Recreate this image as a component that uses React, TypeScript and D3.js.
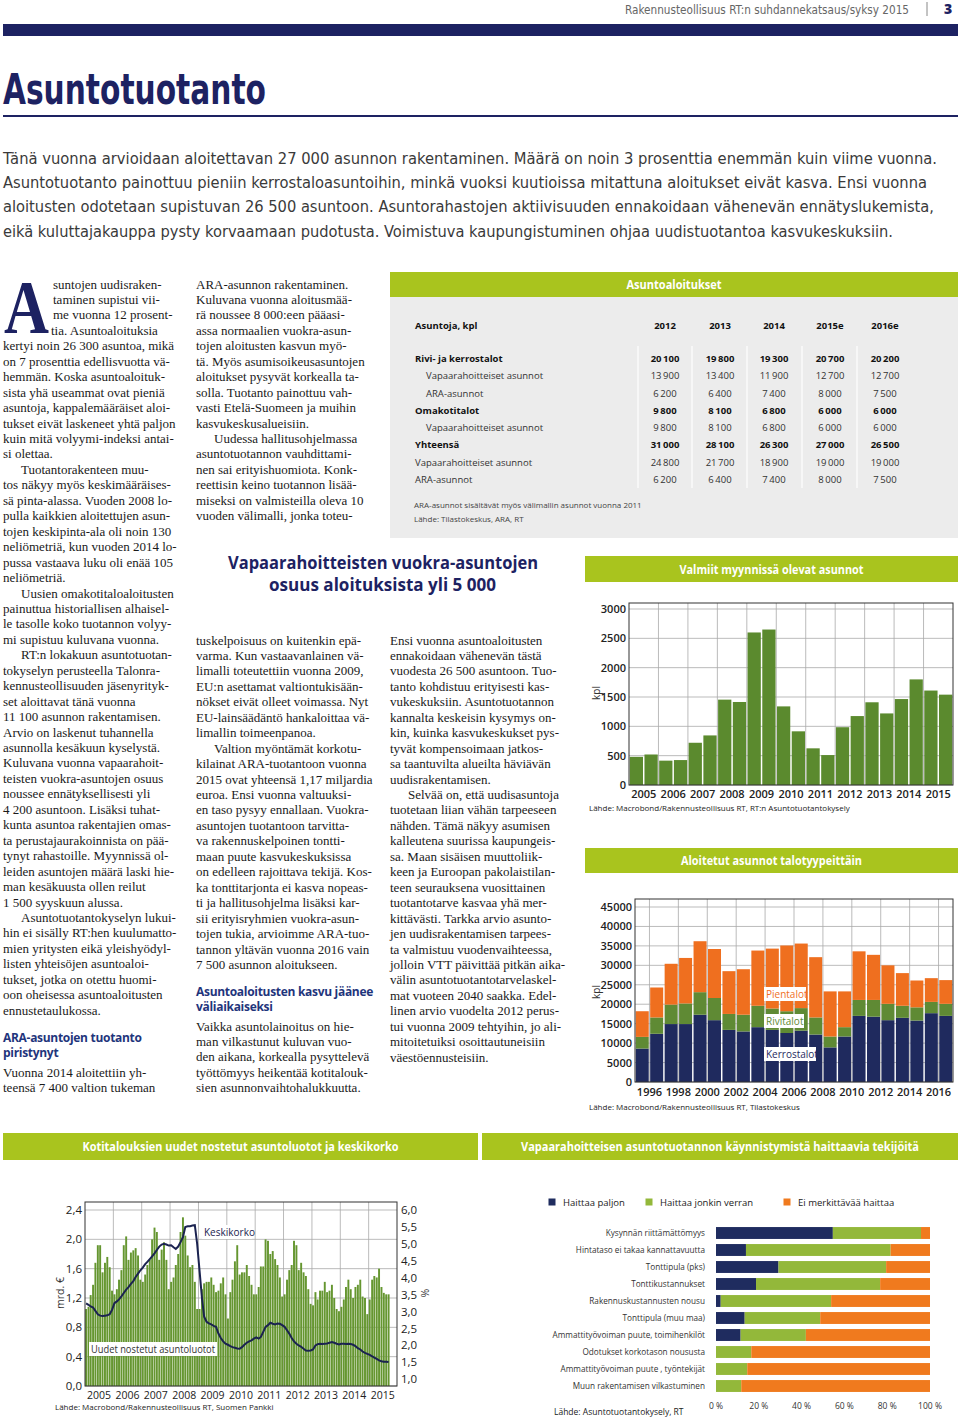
import React from 'react';
import * as d3 from 'd3';

const W = 960, H = 1419;
const NAVY = '#1d2262';
const LIME = '#a9c41e';
const SERIF = "'Liberation Serif','DejaVu Serif',serif";
const SANS = "'Open Sans','Liberation Sans',sans-serif";
const NARROW = "'Liberation Sans Narrow','DejaVu Sans Condensed','Liberation Sans',sans-serif";
const BODY = '#1a1a1a';

// ---------- Table: Asuntoaloitukset ----------
const tableYears = ['2012', '2013', '2014', '2015e', '2016e'];
const tableRows = [
  { label: 'Rivi- ja kerrostalot', values: [20100, 19800, 19300, 20700, 20200], bold: true, indent: false },
  { label: 'Vapaarahoitteiset asunnot', values: [13900, 13400, 11900, 12700, 12700], bold: false, indent: true },
  { label: 'ARA-asunnot', values: [6200, 6400, 7400, 8000, 7500], bold: false, indent: true },
  { label: 'Omakotitalot', values: [9800, 8100, 6800, 6000, 6000], bold: true, indent: false },
  { label: 'Vapaarahoitteiset asunnot', values: [9800, 8100, 6800, 6000, 6000], bold: false, indent: true },
  { label: 'Yhteensä', values: [31000, 28100, 26300, 27000, 26500], bold: true, indent: false },
  { label: 'Vapaarahoitteiset asunnot', values: [24800, 21700, 18900, 19000, 19000], bold: false, indent: false },
  { label: 'ARA-asunnot', values: [6200, 6400, 7400, 8000, 7500], bold: false, indent: false },
];

// ---------- Valmiit myynnissä olevat asunnot ----------
const valmiitYears = ['2005', '2006', '2007', '2008', '2009', '2010', '2011', '2012', '2013', '2014', '2015'];
const valmiitValues = [480, 520, 415, 425, 720, 845, 1455, 1415, 2600, 2650, 1340, 915, 625, 510, 985, 1175, 1410, 1220, 1465, 1800, 1610, 1540];
const valmiitTicks = [0, 500, 1000, 1500, 2000, 2500, 3000];

// ---------- Aloitetut asunnot talotyypeittäin ----------
const aloitetutLabels = ['1996', '1998', '2000', '2002', '2004', '2006', '2008', '2010', '2012', '2014', '2016'];
const kerrostalot = [8600, 12400, 14900, 14900, 17300, 15900, 13400, 13000, 14100, 13400, 12600, 13200, 12200, 8900, 11700, 17000, 16800, 15900, 16500, 15800, 17700, 17000];
const rivitalot = [3000, 4200, 5000, 5300, 5800, 5700, 4100, 4300, 5500, 5500, 5600, 5800, 4400, 2800, 2400, 4100, 4300, 4200, 3100, 3400, 2900, 3100];
const pientalot = [6600, 7700, 10500, 11700, 13100, 12600, 11000, 11700, 14200, 15400, 16900, 16600, 15500, 11600, 9200, 12500, 11600, 9900, 8400, 6900, 6100, 6100];
const aloitetutTicks = [0, 5000, 10000, 15000, 20000, 25000, 30000, 35000, 40000, 45000];

// ---------- Kotitalouksien asuntoluotot ja keskikorko (monthly from Jan 2005) ----------
const luotot = [
  1.05, 1.08, 1.24, 1.38, 1.68, 1.92, 1.92, 1.55, 1.68, 1.76, 1.62, 1.30,
  1.25, 1.32, 1.45, 1.58, 1.92, 2.04, 1.72, 1.82, 1.85, 1.88, 1.78, 1.45,
  1.42, 1.52, 1.65, 1.72, 2.00, 2.16, 2.10, 1.72, 1.86, 1.96, 1.72, 1.32,
  1.42, 1.48, 1.65, 1.80, 2.10, 2.30, 2.05, 1.78, 1.62, 1.65, 1.42, 1.05,
  1.05, 1.32, 1.40, 1.42, 1.42, 1.48, 1.38, 1.28, 1.30, 1.40, 1.48, 1.25,
  0.92, 1.28, 1.45, 1.70, 1.92, 1.52, 1.55, 1.55, 1.65, 1.50, 1.38, 1.25,
  1.25, 1.35, 1.63, 1.63, 2.00, 1.98, 1.80, 1.84, 1.73, 1.65, 1.48, 1.22,
  1.25, 1.45, 1.58, 1.65, 1.98, 1.92, 1.58, 1.68, 1.55, 1.50, 1.32, 1.12,
  1.10, 1.28, 1.18, 1.30, 1.30, 1.42, 1.28, 1.30, 1.38, 1.20, 1.05, 1.02,
  1.08, 1.18, 1.35, 1.45, 1.32, 1.20, 1.35, 1.38, 1.45, 1.22, 1.20, 0.98,
  1.18, 1.45, 1.50, 1.48, 1.60, 1.35, 1.27, 1.25, 1.25,
];
const keskikorko = [
  3.24, 3.20, 3.15, 3.12, 3.02, 2.92, 2.88, 2.87, 2.88, 2.89, 2.92, 3.05,
  3.25, 3.30, 3.36, 3.45, 3.55, 3.65, 3.72, 3.82, 3.90, 4.02, 4.12, 4.22,
  4.30, 4.40, 4.47, 4.55, 4.63, 4.72, 4.82, 4.92, 4.98, 5.00, 4.98, 4.95,
  4.96, 4.90, 4.85, 4.92, 5.05, 5.20, 5.50, 5.52, 5.52, 5.54, 5.55, 5.00,
  4.20, 3.40, 2.85, 2.70, 2.65, 2.62, 2.58, 2.55, 2.35, 2.22, 2.12, 2.05,
  2.02, 1.98, 1.95, 1.93, 1.91, 1.90, 1.95, 2.02, 2.08, 2.12, 2.15, 2.20,
  2.24, 2.20, 2.25, 2.40, 2.55, 2.60, 2.67, 2.64, 2.62, 2.65, 2.64, 2.60,
  2.55, 2.45, 2.35, 2.22, 2.12, 2.05, 2.00, 1.96, 1.90, 1.85, 1.84, 1.85,
  1.88, 2.00, 2.04, 2.05, 2.04, 2.05, 2.06, 2.08, 2.10, 2.08, 2.05, 2.03,
  2.05, 2.05, 2.04, 2.05, 2.04, 2.02, 1.98, 1.92, 1.88, 1.82, 1.78, 1.75,
  1.72, 1.68, 1.64, 1.60, 1.56, 1.53, 1.52, 1.52, 1.51,
];
const luototYears = ['2005', '2006', '2007', '2008', '2009', '2010', '2011', '2012', '2013', '2014', '2015'];
const luototLeftTicks = [0, 0.4, 0.8, 1.2, 1.6, 2.0, 2.4];
const luototRightTicks = [1.0, 1.5, 2.0, 2.5, 3.0, 3.5, 4.0, 4.5, 5.0, 5.5, 6.0];

// ---------- Haittaavat tekijät ----------
const haittaCategories = [
  'Kysynnän riittämättömyys',
  'Hintataso ei takaa kannattavuutta',
  'Tonttipula (pks)',
  'Tonttikustannukset',
  'Rakennuskustannusten nousu',
  'Tonttipula (muu maa)',
  'Ammattityövoiman puute, toimihenkilöt',
  'Odotukset korkotason noususta',
  'Ammattityövoiman puute ,  työntekijät',
  'Muun rakentamisen vilkastuminen',
];
const haittaaPaljon = [54.6, 14.0, 29.2, 18.7, 2.2, 13.4, 11.5, 0, 0, 0];
const haittaaJonkin = [41.2, 67.6, 50.3, 58.0, 51.6, 35.3, 30.5, 16.5, 14.6, 11.8];
const eiHaittaa = [4.2, 18.4, 20.5, 23.3, 46.2, 51.3, 58.0, 83.5, 85.4, 88.2];
const haittaTicks = [0, 20, 40, 60, 80, 100];

// ---------- Text ----------
const introLines = [
  'Tänä vuonna arvioidaan aloitettavan 27 000 asunnon rakentaminen. Määrä on noin 3 prosenttia enemmän kuin viime vuonna.',
  'Asuntotuotanto painottuu pieniin kerrostaloasuntoihin, minkä vuoksi kuutioissa mitattuna aloitukset eivät kasva. Ensi vuonna',
  'aloitusten odotetaan supistuvan 26 500 asuntoon. Asuntorahastojen aktiivisuuden ennakoidaan vähenevän ennätyslukemista,',
  'eikä kuluttajakauppa pysty korvaamaan pudotusta. Voimistuva kaupungistuminen ohjaa uudistuotantoa kasvukeskuksiin.',
];
const introWidths = [934, 924, 931, 890];

const col1 = [
  'suntojen uudisraken-', 'taminen supistui vii-', 'me vuonna 12 prosent-', 'tia. Asuntoaloituksia',
  'kertyi noin 26 300 asuntoa, mikä', 'on 7 prosenttia edellisvuotta vä-', 'hemmän. Koska asuntoaloituk-',
  'sista yhä useammat ovat pieniä', 'asuntoja, kappalemääräiset aloi-', 'tukset eivät laskeneet yhtä paljon',
  'kuin mitä volyymi-indeksi antai-', 'si olettaa.', '\tTuotantorakenteen muu-',
  'tos näkyy myös keskimääräises-', 'sä pinta-alassa. Vuoden 2008 lo-', 'pulla kaikkien aloitettujen asun-',
  'tojen keskipinta-ala oli noin 130', 'neliömetriä, kun vuoden 2014 lo-', 'pussa vastaava luku oli enää 105',
  'neliömetriä.', '\tUusien omakotitaloaloitusten', 'painuttua historiallisen alhaisel-',
  'le tasolle koko tuotannon volyy-', 'mi supistuu kuluvana vuonna.', '\tRT:n lokakuun asuntotuotan-',
  'tokyselyn perusteella Talonra-', 'kennusteollisuuden jäsenyrityk-', 'set aloittavat tänä vuonna',
  '11 100 asunnon rakentamisen.', 'Arvio on laskenut tuhannella', 'asunnolla kesäkuun kyselystä.',
  'Kuluvana vuonna vapaarahoit-', 'teisten vuokra-asuntojen osuus', 'noussee ennätyksellisesti yli',
  '4 200 asuntoon. Lisäksi tuhat-', 'kunta asuntoa rakentajien omas-', 'ta perustajaurakoinnista on pää-',
  'tynyt rahastoille. Myynnissä ol-', 'leiden asuntojen määrä laski hie-', 'man kesäkuusta ollen reilut',
  '1 500 syyskuun alussa.', '\tAsuntotuotantokyselyn lukui-', 'hin ei sisälly RT:hen kuulumatto-',
  'mien yritysten eikä yleishyödyl-', 'listen yhteisöjen asuntoaloi-', 'tukset, jotka on otettu huomi-',
  'oon oheisessa asuntoaloitusten', 'ennustetaulukossa.',
];
const col1Head = ['ARA-asuntojen tuotanto', 'piristynyt'];
const col1Tail = ['Vuonna 2014 aloitettiin yh-', 'teensä 7 400 valtion tukeman'];

const col2Top = [
  'ARA-asunnon rakentaminen.', 'Kuluvana vuonna aloitusmää-', 'rä noussee 8 000:een pääasi-',
  'assa normaalien vuokra-asun-', 'tojen aloitusten kasvun myö-', 'tä. Myös asumisoikeusasuntojen',
  'aloitukset pysyvät korkealla ta-', 'solla. Tuotanto painottuu vah-', 'vasti Etelä-Suomeen ja muihin',
  'kasvukeskusalueisiin.', '\tUudessa hallitusohjelmassa', 'asuntotuotannon vauhdittami-',
  'nen sai erityishuomiota. Konk-', 'reettisin keino tuotannon lisää-', 'miseksi on valmisteilla oleva 10',
  'vuoden välimalli, jonka toteu-',
];
const col2Bottom = [
  'tuskelpoisuus on kuitenkin epä-', 'varma. Kun vastaavanlainen vä-', 'limalli toteutettiin vuonna 2009,',
  'EU:n asettamat valtiontukisään-', 'nökset eivät olleet voimassa. Nyt', 'EU-lainsäädäntö hankaloittaa vä-',
  'limallin toimeenpanoa.', '\tValtion myöntämät korkotu-', 'kilainat ARA-tuotantoon vuonna',
  '2015 ovat yhteensä 1,17 miljardia', 'euroa. Ensi vuonna valtuuksi-', 'en taso pysyy ennallaan. Vuokra-',
  'asuntojen tuotantoon tarvitta-', 'va rakennuskelpoinen tontti-', 'maan puute kasvukeskuksissa',
  'on edelleen rajoittava tekijä. Kos-', 'ka tonttitarjonta ei kasva nopeas-', 'ti ja hallitusohjelma lisäksi kar-',
  'sii erityisryhmien vuokra-asun-', 'tojen tukia, arvioimme ARA-tuo-', 'tannon yltävän vuonna 2016 vain',
  '7 500 asunnon aloitukseen.',
];
const col2Head = ['Asuntoaloitusten kasvu jäänee', 'väliaikaiseksi'];
const col2Tail = [
  'Vaikka asuntolainoitus on hie-', 'man vilkastunut kuluvan vuo-', 'den aikana, korkealla pysyttelevä',
  'työttömyys heikentää kotitalouk-', 'sien asunnonvaihtohalukkuutta.',
];
const col3 = [
  'Ensi vuonna asuntoaloitusten', 'ennakoidaan vähenevän tästä', 'vuodesta 26 500 asuntoon. Tuo-',
  'tanto kohdistuu erityisesti kas-', 'vukeskuksiin. Asuntotuotannon', 'kannalta keskeisin kysymys on-',
  'kin, kuinka kasvukeskukset pys-', 'tyvät kompensoimaan jatkos-', 'sa taantuvilta alueilta häviävän',
  'uudisrakentamisen.', '\tSelvää on, että uudisasuntoja', 'tuotetaan liian vähän tarpeeseen',
  'nähden. Tämä näkyy asumisen', 'kalleutena suurissa kaupungeis-', 'sa. Maan sisäisen muuttoliik-',
  'keen ja Euroopan pakolaistilan-', 'teen seurauksena vuosittainen', 'tuotantotarve kasvaa yhä mer-',
  'kittävästi. Tarkka arvio asunto-', 'jen uudisrakentamisen tarpees-', 'ta valmistuu vuodenvaihteessa,',
  'jolloin VTT päivittää pitkän aika-', 'välin asuntotuotantotarvelaskel-', 'mat vuoteen 2040 saakka. Edel-',
  'linen arvio vuodelta 2012 perus-', 'tui vuonna 2009 tehtyihin, jo ali-', 'mitoitetuiksi osoittautuneisiin',
  'väestöennusteisiin.',
];

const STEP = 15.45;

function BodyLines({ lines, x, y0, xOverrides }: { lines: string[]; x: number; y0: number; xOverrides?: Record<number, number> }) {
  return (
    <g fontFamily={SERIF} fontSize={13} fill={BODY}>
      {lines.map((l, i) => {
        const indent = l.startsWith('\t');
        const t = indent ? l.slice(1) : l;
        const xx = xOverrides && xOverrides[i] !== undefined ? xOverrides[i] : x + (indent ? 18 : 0);
        return (
          <text key={i} x={xx} y={y0 + i * STEP}>{t}</text>
        );
      })}
    </g>
  );
}

function Heading({ lines, x, y0 }: { lines: string[]; x: number; y0: number }) {
  return (
    <g fontFamily={SANS} fontSize={12} fontWeight={700} fill="#1f357c">
      {lines.map((l, i) => (
        <text key={i} x={x} y={y0 + i * 15.5} letterSpacing={-0.3}>{l}</text>
      ))}
    </g>
  );
}

function GreenBar({ x, y, w, h, title, tw, fs = 12.5 }: { x: number; y: number; w: number; h: number; title: string; tw: number; fs?: number }) {
  return (
    <g>
      <rect x={x} y={y} width={w} height={h} fill={LIME} />
      <text x={x + w / 2 - tw / 2} y={y + h / 2 + 4.5} fontFamily={SANS} fontWeight={700} fontSize={fs}
        fill="#fff" textLength={tw} lengthAdjust="spacingAndGlyphs">{title}</text>
    </g>
  );
}

const fmtThin = (v: number) => d3.format(',')(v).replace(',', '\u2009');

function Table() {
  const colX = [665, 720, 774, 830, 885];
  const seps = [638, 692, 747, 802, 857];
  const rowY = d3.scaleLinear().domain([0, 7]).range([362, 483]);
  return (
    <g>
      <rect x={390} y={272} width={568} height={266} fill="#ececec" />
      <GreenBar x={390} y={272} w={568} h={25} title="Asuntoaloitukset" tw={95} />
      <g fontFamily={SANS} fontSize={9.5} fill="#111">
        <text x={415} y={329} fontWeight={700}>Asuntoja, kpl</text>
        {tableYears.map((yv, i) => (
          <text key={yv} x={colX[i]} y={329} textAnchor="middle" fontWeight={700}>{yv}</text>
        ))}
        {seps.map((sx, i) => (
          <line key={i} x1={sx} x2={sx} y1={346} y2={488} stroke="#fff" strokeWidth={1.2} />
        ))}
        {tableRows.map((r, ri) => (
          <g key={ri} fontWeight={r.bold ? 700 : 400} fill={r.bold ? '#111' : '#333'}>
            <text x={r.indent ? 426 : 415} y={rowY(ri)}>{r.label}</text>
            {r.values.map((v, ci) => (
              <text key={ci} x={colX[ci]} y={rowY(ri)} textAnchor="middle">{fmtThin(v)}</text>
            ))}
          </g>
        ))}
        <text x={414} y={508} fontSize={8} fill="#444">ARA-asunnot sisältävät myös välimallin asunnot vuonna 2011</text>
        <text x={414} y={522} fontSize={8} fill="#444">Lähde: Tilastokeskus, ARA, RT</text>
      </g>
    </g>
  );
}

function ValmiitChart() {
  const left = 629, right = 953, top = 603, bottom = 785;
  const y = d3.scaleLinear().domain([0, 3000]).range([785, 609]);
  const x = d3.scaleBand<number>().domain(d3.range(valmiitValues.length)).range([left, right]).paddingInner(0.1).paddingOuter(0.05);
  const yr = d3.scaleBand<string>().domain(valmiitYears).range([left, right]);
  return (
    <g>
      <GreenBar x={585} y={556} w={373} h={26} title="Valmiit myynnissä olevat asunnot" tw={184} />
      {valmiitTicks.map(t => (
        <line key={t} x1={left} x2={right} y1={y(t)} y2={y(t)} stroke="#aaa" strokeWidth={0.8} />
      ))}
      {valmiitYears.slice(1).map(v => (
        <line key={v} x1={yr(v)!} x2={yr(v)!} y1={top} y2={bottom} stroke="#aaa" strokeWidth={0.8} />
      ))}
      {valmiitValues.map((v, i) => (
        <rect key={i} x={x(i)!} y={y(v)} width={x.bandwidth()} height={y(0) - y(v)} fill="#5b8a2e" />
      ))}
      <rect x={left} y={top} width={right - left} height={bottom - top} fill="none" stroke="#333" strokeWidth={1} />
      <g fontFamily={SANS} fontSize={11} fontWeight={600} fill="#222">
        {valmiitTicks.map(t => (
          <text key={t} x={626} y={y(t) + 4} textAnchor="end">{t}</text>
        ))}
        {valmiitYears.map(v => (
          <text key={v} x={yr(v)! + yr.bandwidth() / 2} y={798} textAnchor="middle">{v}</text>
        ))}
      </g>
      <text transform="translate(600,693) rotate(-90)" textAnchor="middle" fontFamily={SANS} fontSize={10} fill="#333">kpl</text>
      <text x={589} y={811} fontFamily={SANS} fontSize={8} fill="#222">Lähde: Macrobond/Rakennusteollisuus RT, RT:n Asuntotuotantokysely</text>
    </g>
  );
}

function AloitetutChart() {
  const left = 635, right = 953, top = 899, bottom = 1082;
  const y = d3.scaleLinear().domain([0, 45000]).range([1082, 907]);
  const x = d3.scaleBand<number>().domain(d3.range(kerrostalot.length)).range([left, right]).paddingInner(0.1).paddingOuter(0.05);
  const stack = kerrostalot.map((k, i) => ({ k, r: rivitalot[i], p: pientalot[i] }));
  const gridX = aloitetutLabels.map((_, j) => x(2 * j + 1)! - x.step() * x.paddingInner() / 2);
  return (
    <g>
      <GreenBar x={585} y={848} w={373} h={25} title="Aloitetut asunnot talotyypeittäin" tw={181} />
      {aloitetutTicks.map(t => (
        <line key={t} x1={left} x2={right} y1={y(t)} y2={y(t)} stroke="#aaa" strokeWidth={0.8} />
      ))}
      {gridX.map((gx, j) => (
        <line key={j} x1={gx} x2={gx} y1={top} y2={bottom} stroke="#aaa" strokeWidth={0.8} />
      ))}
      {stack.map((s, i) => (
        <g key={i}>
          <rect x={x(i)!} y={y(s.k)} width={x.bandwidth()} height={y(0) - y(s.k)} fill="#1f2a5e" />
          <rect x={x(i)!} y={y(s.k + s.r)} width={x.bandwidth()} height={y(s.k) - y(s.k + s.r)} fill="#5f8a34" />
          <rect x={x(i)!} y={y(s.k + s.r + s.p)} width={x.bandwidth()} height={y(s.k + s.r) - y(s.k + s.r + s.p)} fill="#ef6f1f" />
        </g>
      ))}
      <rect x={left} y={top} width={right - left} height={bottom - top} fill="none" stroke="#333" strokeWidth={1} />
      <g fontFamily={SANS} fontSize={10}>
        <rect x={764} y={987} width={42} height={14} fill="#fff" />
        <text x={766} y={998} fill="#ef6f1f">Pientalot</text>
        <rect x={764} y={1014} width={40} height={14} fill="#fff" />
        <text x={766} y={1025} fill="#5f8a34">Rivitalot</text>
        <rect x={764} y={1047} width={52} height={14} fill="#fff" />
        <text x={766} y={1058} fill="#1f2a5e">Kerrostalot</text>
      </g>
      <g fontFamily={SANS} fontSize={11} fontWeight={600} fill="#222">
        {aloitetutTicks.map(t => (
          <text key={t} x={632} y={y(t) + 4} textAnchor="end">{t}</text>
        ))}
        {aloitetutLabels.map((l, j) => (
          <text key={l} x={gridX[j]} y={1096} textAnchor="middle">{l}</text>
        ))}
      </g>
      <text transform="translate(600,992) rotate(-90)" textAnchor="middle" fontFamily={SANS} fontSize={10} fill="#333">kpl</text>
      <text x={589} y={1110} fontFamily={SANS} fontSize={8} fill="#222">Lähde: Macrobond/Rakennusteollisuus RT, Tilastokeskus</text>
    </g>
  );
}

function LuototChart() {
  const left = 85, right = 397, top = 1202, bottom = 1386;
  const x = d3.scaleTime().domain([new Date(2005, 0, 1), new Date(2016, 0, 1)]).range([left, right]);
  const yL = d3.scaleLinear().domain([0, 2.4]).range([1386, 1210]);
  const yR = d3.scaleLinear().domain([1, 6]).range([1379.3, 1210]);
  const mx = (i: number) => x(new Date(2005, i, 15));
  const bw = (x(new Date(2005, 1, 1)) - x(new Date(2005, 0, 1))) * 0.8;
  const line = d3.line<number>().x((_, i) => mx(i)).y(v => yR(v));
  const fmt = (v: number) => v.toFixed(1).replace('.', ',');
  return (
    <g>
      <GreenBar x={3} y={1133} w={475} h={27} title="Kotitalouksien uudet nostetut asuntoluotot ja keskikorko" tw={316} />
      {luototLeftTicks.map(t => (
        <line key={t} x1={left} x2={right} y1={yL(t)} y2={yL(t)} stroke="#aaa" strokeWidth={0.8} />
      ))}
      {luototYears.slice(1).map(v => {
        const gx = x(new Date(+v, 0, 1));
        return <line key={v} x1={gx} x2={gx} y1={top} y2={bottom} stroke="#aaa" strokeWidth={0.8} />;
      })}
      {luotot.map((v, i) => (
        <rect key={i} x={mx(i) - bw / 2} y={yL(v)} width={bw} height={yL(0) - yL(v)} fill="#659630" />
      ))}
      <path d={line(keskikorko) || ''} fill="none" stroke="#1b2350" strokeWidth={2} />
      <rect x={left} y={top} width={right - left} height={bottom - top} fill="none" stroke="#333" strokeWidth={1} />
      <rect x={202} y={1225} width={50} height={14} fill="#fff" />
      <text x={204} y={1236} fontFamily={SANS} fontSize={10} fill="#1b2350">Keskikorko</text>
      <rect x={89} y={1342} width={128} height={14} fill="#fff" />
      <text x={91} y={1353} fontFamily={SANS} fontSize={10} fill="#333" textLength={124} lengthAdjust="spacingAndGlyphs">Uudet nostetut asuntoluotot</text>
      <g fontFamily={SANS} fill="#222">
        {luototLeftTicks.map(t => (
          <text key={t} x={82} y={yL(t) + 4} textAnchor="end" fontSize={11.5}>{fmt(t)}</text>
        ))}
        {luototRightTicks.map(t => (
          <text key={t} x={401} y={yR(t) + 4} fontSize={11.5}>{fmt(t)}</text>
        ))}
        {luototYears.map(v => (
          <text key={v} x={x(new Date(+v, 6, 1))} y={1399} textAnchor="middle" fontSize={10.5}>{v}</text>
        ))}
      </g>
      <text transform="translate(64,1293) rotate(-90)" textAnchor="middle" fontFamily={SANS} fontSize={10.5} fill="#333">mrd. €</text>
      <text transform="translate(421,1293) rotate(90)" textAnchor="middle" fontFamily={SANS} fontSize={10.5} fill="#333">%</text>
      <text x={55} y={1410} fontFamily={SANS} fontSize={8} fill="#222">Lähde: Macrobond/Rakennusteollisuus RT, Suomen Pankki</text>
    </g>
  );
}

function HaittaChart() {
  const x = d3.scaleLinear().domain([0, 100]).range([716, 930]);
  const y = d3.scaleBand<string>().domain(haittaCategories).range([1224.5, 1394.5]).paddingInner(0.3).paddingOuter(0.15);
  const legend = [
    { label: 'Haittaa paljon', color: '#1f2c5f', x: 552 },
    { label: 'Haittaa jonkin verran', color: '#93b83a', x: 649 },
    { label: 'Ei merkittävää haittaa', color: '#f07a1e', x: 787 },
  ];
  return (
    <g>
      <GreenBar x={482} y={1133} w={476} h={27} title="Vapaarahoitteisen asuntotuotannon käynnistymistä haittaavia tekijöitä" tw={398} fs={11.5} />
      {legend.map(l => (
        <g key={l.label}>
          <rect x={l.x - 3.5} y={1198.5} width={7} height={7} fill={l.color} />
          <text x={l.x + 11} y={1205.5} fontFamily={SANS} fontSize={9.5} fill="#222">{l.label}</text>
        </g>
      ))}
      {haittaCategories.map((c, i) => {
        const yy = y(c)!;
        const h = y.bandwidth();
        const a = haittaaPaljon[i], b = haittaaJonkin[i], e = eiHaittaa[i];
        return (
          <g key={c}>
            <rect x={x(0)} y={yy} width={x(a) - x(0)} height={h} fill="#1f2c5f" />
            <rect x={x(a)} y={yy} width={x(a + b) - x(a)} height={h} fill="#93b83a" />
            <rect x={x(a + b)} y={yy} width={x(a + b + e) - x(a + b)} height={h} fill="#f07a1e" />
            <text x={705} y={yy + h / 2 + 3} textAnchor="end" fontFamily={SANS} fontSize={8.2} fill="#333">{c}</text>
          </g>
        );
      })}
      <g fontFamily={SANS} fontSize={8.5} fill="#333">
        {haittaTicks.map(t => (
          <text key={t} x={x(t)} y={1409} textAnchor="middle">{t} %</text>
        ))}
      </g>
      <text x={554} y={1415} fontFamily={SANS} fontSize={8.5} fill="#222">Lähde: Asuntotuotantokysely, RT</text>
    </g>
  );
}

export default function App() {
  return (
    <div style={{ position: 'absolute', left: 0, top: 0, width: W, height: H, background: '#fff' }}>
      <svg width={W} height={H} viewBox={`0 0 ${W} ${H}`} style={{ display: 'block' }}>
        <rect x={0} y={0} width={W} height={H} fill="#fff" />
        {/* Header */}
        <text x={625} y={13.5} fontFamily={NARROW} fontSize={12} fill="#666" textLength={284} lengthAdjust="spacingAndGlyphs">Rakennusteollisuus RT:n suhdannekatsaus/syksy 2015</text>
        <line x1={927} x2={927} y1={2} y2={16} stroke="#888" strokeWidth={1} />
        <text x={944} y={14} fontFamily={SANS} fontWeight={800} fontSize={14} fill={NAVY}>3</text>
        <rect x={3} y={24} width={955} height={12} fill={NAVY} />
        <text x={3} y={104} fontFamily={NARROW} fontWeight={700} fontSize={42} fill={NAVY} textLength={263} lengthAdjust="spacingAndGlyphs">Asuntotuotanto</text>
        <rect x={3} y={115} width={955} height={2} fill={NAVY} />
        {/* Intro */}
        {introLines.map((l, i) => (
          <text key={i} x={3} y={163.5 + i * 24.4} fontFamily={NARROW} fontSize={16} fill="#3a3a3a"
            textLength={introWidths[i]} lengthAdjust="spacingAndGlyphs">{l}</text>
        ))}
        {/* Drop cap */}
        <text x={4} y={333} fontFamily={SERIF} fontWeight={700} fontSize={76} fill={NAVY} textLength={45} lengthAdjust="spacingAndGlyphs">A</text>
        {/* Body columns */}
        <BodyLines lines={col1} x={3} y0={288.5} xOverrides={{ 0: 53, 1: 53, 2: 53, 3: 51 }} />
        <Heading lines={col1Head} x={3} y0={1041.5} />
        <BodyLines lines={col1Tail} x={3} y0={1076.5} />
        <BodyLines lines={col2Top} x={196} y0={288.5} />
        <BodyLines lines={col2Bottom} x={196} y0={644.5} />
        <Heading lines={col2Head} x={196} y0={995.5} />
        <BodyLines lines={col2Tail} x={196} y0={1030.5} />
        <BodyLines lines={col3} x={390} y0={644.5} />
        {/* Middle headline */}
        <text x={228} y={569} fontFamily={SANS} fontWeight={700} fontSize={17} fill={NAVY} textLength={310} lengthAdjust="spacingAndGlyphs">Vapaarahoitteisten vuokra-asuntojen</text>
        <text x={269} y={591} fontFamily={SANS} fontWeight={700} fontSize={17} fill={NAVY} textLength={227} lengthAdjust="spacingAndGlyphs">osuus aloituksista yli 5 000</text>
        <Table />
        <ValmiitChart />
        <AloitetutChart />
        <LuototChart />
        <HaittaChart />
      </svg>
    </div>
  );
}
